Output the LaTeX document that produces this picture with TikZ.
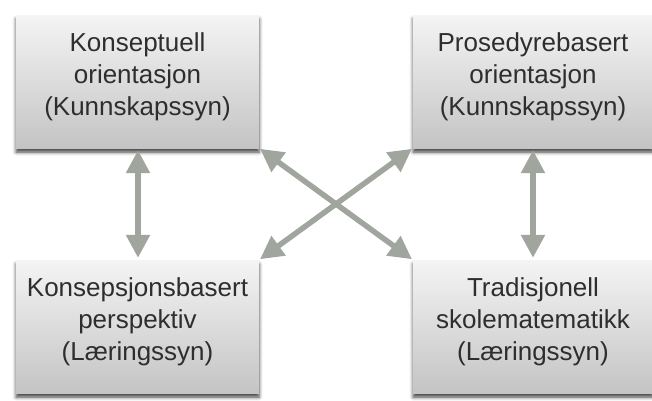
\documentclass[tikz,border=0pt]{standalone}
\usepackage{fontspec}
\setmainfont{Liberation Sans}
\usetikzlibrary{arrows.meta,shadows.blur}
\definecolor{arrowgray}{RGB}{160,165,158}
\definecolor{boxtop}{RGB}{244,244,244}
\definecolor{boxbottom}{RGB}{196,196,196}
\tikzset{
  box/.style={rectangle, inner sep=0pt, top color=boxtop, bottom color=boxbottom,
    blur shadow={shadow xshift=0pt, shadow yshift=-4pt, shadow blur radius=3.5pt, shadow opacity=75}},
  txt/.style={align=center, inner sep=0pt, text=black!82, font=\fontsize{26}{32}\selectfont},
  link/.style={draw=arrowgray, line width=5.5pt, {Triangle[width=23pt,length=23pt]}-{Triangle[width=23pt,length=23pt]}}
}
\begin{document}
\begin{tikzpicture}[x=1pt,y=1pt]
\useasboundingbox (0,0) rectangle (652,-400);
\node[box, minimum width=243pt, minimum height=133pt] (tl) at (137.5,-81.5) {};
\node[box, minimum width=240pt, minimum height=133pt] (tr) at (533,-81.5) {};
\node[box, minimum width=243pt, minimum height=133pt] (bl) at (137.5,-326.5) {};
\node[box, minimum width=240pt, minimum height=133pt] (br) at (533,-326.5) {};
\node[txt] (tlt) at ([yshift=5pt]tl.center) {Konseptuell\\orientasjon\\(Kunnskapssyn)};
\node[txt] (trt) at ([yshift=5pt]tr.center) {Prosedyrebasert\\orientasjon\\(Kunnskapssyn)};
\node[txt] (blt) at ([yshift=5pt]bl.center) {Konsepsjonsbasert\\perspektiv\\(Læringssyn)};
\node[txt] (brt) at ([yshift=5pt]br.center) {Tradisjonell\\skolematematikk\\(Læringssyn)};
\draw[link, shorten <=2pt, shorten >=2pt] ([xshift=0.5pt]tl.south) -- ([xshift=0.5pt]bl.south |- bl.north);
\draw[link, shorten <=2pt, shorten >=2pt] (tr.south) -- (br.north);
\draw[link, shorten <=1pt, shorten >=1pt] (tl.south east) -- (br.north west);
\draw[link, shorten <=1pt, shorten >=1pt] (bl.north east) -- (tr.south west);
\end{tikzpicture}
\end{document}
